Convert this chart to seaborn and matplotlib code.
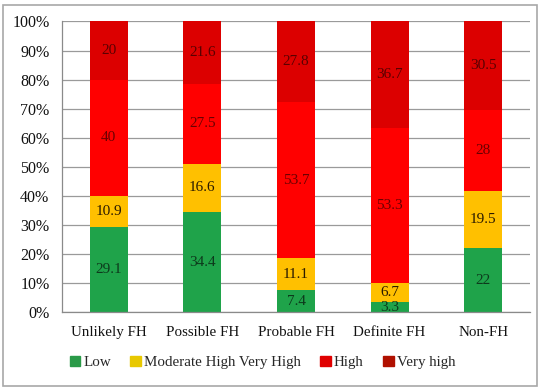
import numpy as np
import pandas as pd
import matplotlib
matplotlib.use('Agg')
import matplotlib.pyplot as plt
from matplotlib.patches import Rectangle
from matplotlib.ticker import PercentFormatter, FixedLocator
import seaborn as sns

categories = ['Unlikely FH', 'Possible FH', 'Probable FH', 'Definite FH', 'Non-FH']
low = [29.1, 34.4, 7.4, 3.3, 22]
moderate = [10.9, 16.6, 11.1, 6.7, 19.5]
high = [40, 27.5, 53.7, 53.3, 28]
very_high = [20, 21.6, 27.8, 36.7, 30.5]

series_names = ['Low', 'Moderate High Very High', 'High', 'Very high']
series_vals = [low, moderate, high, very_high]
colors = ['#1fa34a', '#ffc000', '#ff0000', '#dc0000']
legend_colors = ['#2a9a48', '#e8c800', '#e00000', '#b01000']
text_colors = ['#0d3a1c', '#2a1a00', '#6a0000', '#5a0000']

sns.set_style('white')
plt.rcParams['font.family'] = ['Liberation Serif', 'DejaVu Serif']

df = pd.DataFrame({'cat': categories})
cum = np.zeros(len(categories))
for name, vals in zip(series_names, series_vals):
    df[name + '_bottom'] = cum
    cum = cum + np.array(vals)
    df[name + '_top'] = cum

fig = plt.figure(figsize=(5.5, 3.9), dpi=100)
ax = fig.add_axes([0.1127, 0.2, 0.851, 0.745])

# draw tallest first so stacked look comes out right
for i in range(len(series_names) - 1, -1, -1):
    name = series_names[i]
    sns.barplot(data=df, x='cat', y=name + '_top', order=categories,
                color=colors[i], width=0.405, saturation=1, ax=ax,
                edgecolor='none', linewidth=0)

for i, name in enumerate(series_names):
    for j, c in enumerate(categories):
        b = df[name + '_bottom'][j]
        v = series_vals[i][j]
        ax.text(j, b + v / 2, f'{v:g}', ha='center', va='center',
                fontsize=11, color=text_colors[i])

ax.set_ylim(0, 100)
ax.set_xlim(-0.5, 4.5)
ax.yaxis.set_major_locator(FixedLocator(np.arange(0, 101, 10)))
ax.yaxis.set_major_formatter(PercentFormatter(decimals=0))
ax.set_xlabel('')
ax.set_ylabel('')
ax.grid(axis='y', color='#9a9a9a', linewidth=0.9)
ax.set_axisbelow(True)
for s in ['top', 'right']:
    ax.spines[s].set_visible(False)
for s in ['left', 'bottom']:
    ax.spines[s].set_color('#8a8a8a')
    ax.spines[s].set_linewidth(0.9)
ax.tick_params(axis='y', length=5, color='#8a8a8a', labelsize=11.5, pad=4, labelcolor='#111')
ax.tick_params(axis='x', which='major', length=0, labelsize=10.8, pad=10, labelcolor='#111')
ax.set_xticks(np.arange(-0.5, 5, 1), minor=True)
ax.tick_params(axis='x', which='minor', length=5, color='#8a8a8a', direction='out')

handles = [Rectangle((0, 0), 1, 1, color=c) for c in legend_colors]
fig.legend(handles, series_names, loc='center', bbox_to_anchor=(0.477, 0.07),
           ncol=4, frameon=False, fontsize=10.8, handlelength=0.7,
           handleheight=0.7, handletextpad=0.2, columnspacing=1.3)

fig.patches.append(Rectangle((3 / 550, 4 / 390), 534 / 550, 381 / 390,
                             transform=fig.transFigure, fill=False,
                             edgecolor='#a8a8a8', linewidth=1.2))

fig.savefig('out.png', dpi=100)
